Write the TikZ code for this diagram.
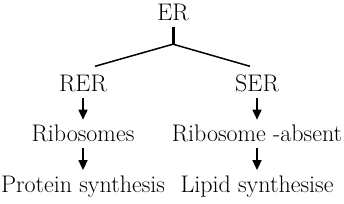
\documentclass[tikz,border=0pt]{standalone}
\usepackage{tikz}
\usetikzlibrary{arrows.meta,positioning}

\begin{document}
\begin{tikzpicture}[
  x=1pt,y=1pt,
  node distance=27pt,
  n/.style={inner sep=0pt,text height=17pt,text depth=6pt,font=\fontsize{24}{28}\selectfont},
  a/.style={-{Triangle[length=10pt,width=9pt]},line width=1.6pt,shorten >=5pt},
  br/.style={line width=1.5pt}
]
\useasboundingbox (0,0) rectangle (344,203);
\node[n] (er) at (173,188) {ER};
\node[n] (rer) at (83,117) {RER};
\node[n] (ser) at (257,117) {SER};
\node[n,below=of rer] (rib) {Ribosomes};
\node[n,below=of rib] (prot) {Protein synthesis};
\node[n,below=of ser] (ribab) {Ribosome -absent};
\node[n,below=of ribab] (lip) {Lipid synthesise};
\coordinate[below=17.5pt of er] (j);
\coordinate (l) at ([shift={(12pt,8pt)}]rer.north);
\coordinate (r) at ([shift={(-7pt,8pt)}]ser.north);
\draw[line width=3pt] (er)--(j);
\draw[br] (l)--(j)--(r);
\draw[a] (rer)--(rib); \draw[a] (rib)--(prot);
\draw[a] (ser)--(ribab); \draw[a] (ribab)--(lip);
\end{tikzpicture}
\end{document}
